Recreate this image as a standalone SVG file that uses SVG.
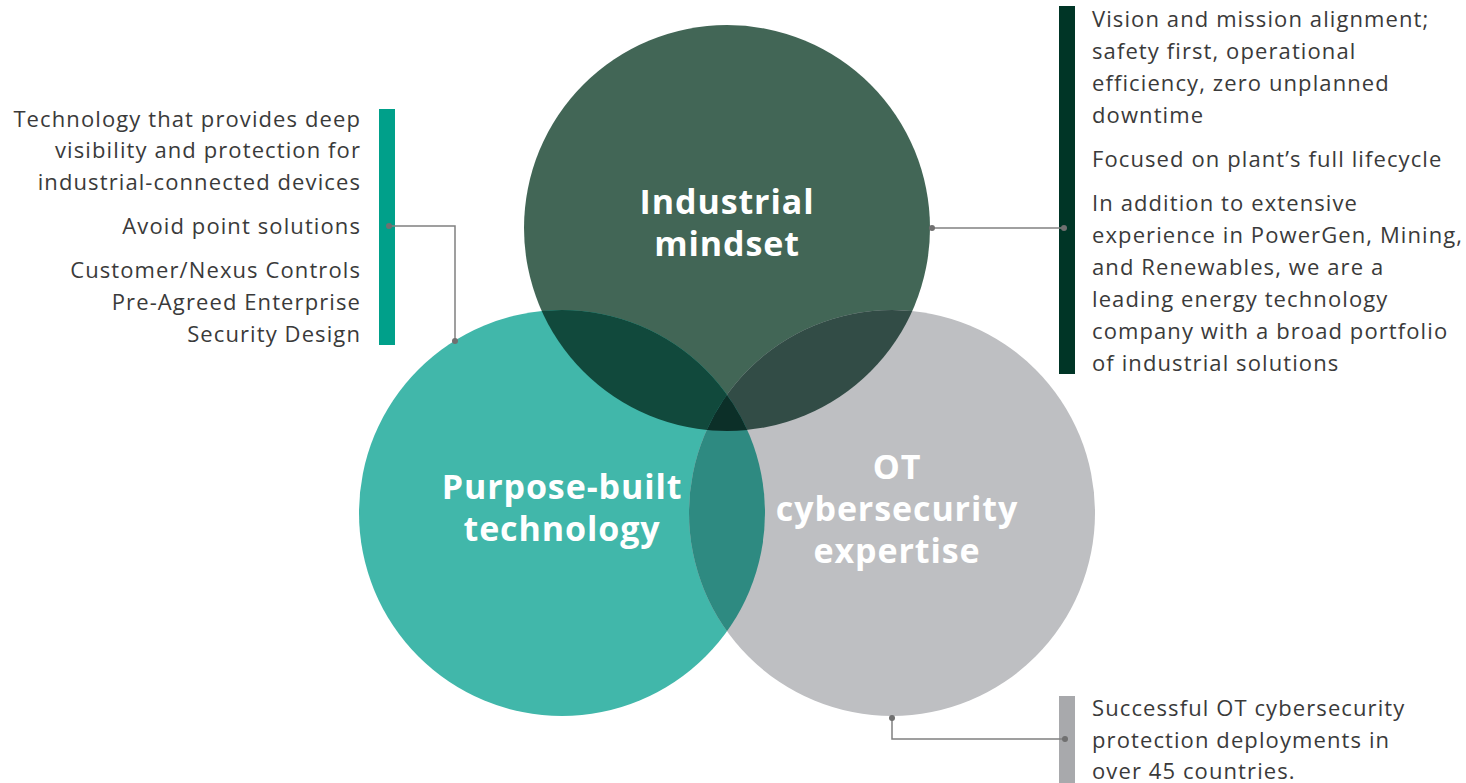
<svg xmlns="http://www.w3.org/2000/svg" width="1466" height="783" viewBox="0 0 1466 783">
<style>
.t{font-family:"Open Sans","Liberation Sans",sans-serif;font-size:22px;letter-spacing:1.1px;fill:#3a3a3a}
.r{text-anchor:end}
.h{font-family:"Open Sans","Liberation Sans",sans-serif;font-size:34px;font-weight:700;letter-spacing:0.9px;fill:#ffffff;text-anchor:middle}
.c{fill:none;stroke:#808080;stroke-width:1.5}
.d{fill:#707070}
</style>
<defs>
<clipPath id="cTop"><circle cx="727" cy="228" r="203"/></clipPath>
<clipPath id="cLeft"><circle cx="562" cy="513" r="203"/></clipPath>
<clipPath id="cTopLeft" clip-path="url(#cTop)"><circle cx="562" cy="513" r="203"/></clipPath>
</defs>
<rect width="1466" height="783" fill="#ffffff"/>
<g id="circle-industrial">
<circle cx="727" cy="228" r="203" fill="#426656"/>
</g>
<g id="circle-purpose">
<circle cx="562" cy="513" r="203" fill="#41b7aa"/>
</g>
<g id="circle-ot">
<circle cx="892" cy="513" r="203" fill="#bebfc2"/>
</g>
<g id="overlaps">
<circle cx="562" cy="513" r="203" fill="#11493c" clip-path="url(#cTop)"/>
<circle cx="892" cy="513" r="203" fill="#324c46" clip-path="url(#cTop)"/>
<circle cx="892" cy="513" r="203" fill="#2e8a81" clip-path="url(#cLeft)"/>
<circle cx="892" cy="513" r="203" fill="#0c2f28" clip-path="url(#cTopLeft)"/>
</g>
<g id="labels">
<text class="h" x="727" y="214">Industrial</text>
<text class="h" x="727" y="256">mindset</text>
<text class="h" x="562" y="499">Purpose-built</text>
<text class="h" x="562" y="541">technology</text>
<text class="h" x="897" y="479">OT</text>
<text class="h" x="897" y="521">cybersecurity</text>
<text class="h" x="897" y="563">expertise</text>
</g>
<g id="bars">
<rect x="379" y="109" width="16" height="236" fill="#00a08a"/>
<rect x="1059" y="6" width="16" height="368" fill="#003526"/>
<rect x="1059" y="696" width="16" height="87" fill="#a8a9ac"/>
</g>
<g id="connectors">
<polyline class="c" points="389,226 455,226 455,341"/>
<circle class="d" cx="389" cy="226" r="3"/>
<circle class="d" cx="455" cy="341" r="3"/>
<line class="c" x1="932" y1="228" x2="1064" y2="228"/>
<circle class="d" cx="932" cy="228" r="3"/>
<circle class="d" cx="1064" cy="228" r="3"/>
<polyline class="c" points="892,718 892,739 1065,739"/>
<circle class="d" cx="892" cy="718" r="3"/>
<circle class="d" cx="1065" cy="739" r="3"/>
</g>
<g id="text-left">
<text class="t r" x="361" y="127">Technology that provides deep</text>
<text class="t r" x="361" y="158">visibility and protection for</text>
<text class="t r" x="361" y="190">industrial-connected devices</text>
<text class="t r" x="361" y="234">Avoid point solutions</text>
<text class="t r" x="361" y="278">Customer/Nexus Controls</text>
<text class="t r" x="361" y="310">Pre-Agreed Enterprise</text>
<text class="t r" x="361" y="342">Security Design</text>
</g>
<g id="text-right">
<text class="t" x="1092" y="27">Vision and mission alignment;</text>
<text class="t" x="1092" y="59">safety first, operational</text>
<text class="t" x="1092" y="91">efficiency, zero unplanned</text>
<text class="t" x="1092" y="123">downtime</text>
<text class="t" x="1092" y="167">Focused on plant’s full lifecycle</text>
<text class="t" x="1092" y="211">In addition to extensive</text>
<text class="t" x="1092" y="243">experience in PowerGen, Mining,</text>
<text class="t" x="1092" y="275">and Renewables, we are a</text>
<text class="t" x="1092" y="307">leading energy technology</text>
<text class="t" x="1092" y="339">company with a broad portfolio</text>
<text class="t" x="1092" y="371">of industrial solutions</text>
</g>
<g id="text-bottom">
<text class="t" x="1092" y="716">Successful OT cybersecurity</text>
<text class="t" x="1092" y="748">protection deployments in</text>
<text class="t" x="1092" y="779">over 45 countries.</text>
</g>
</svg>
